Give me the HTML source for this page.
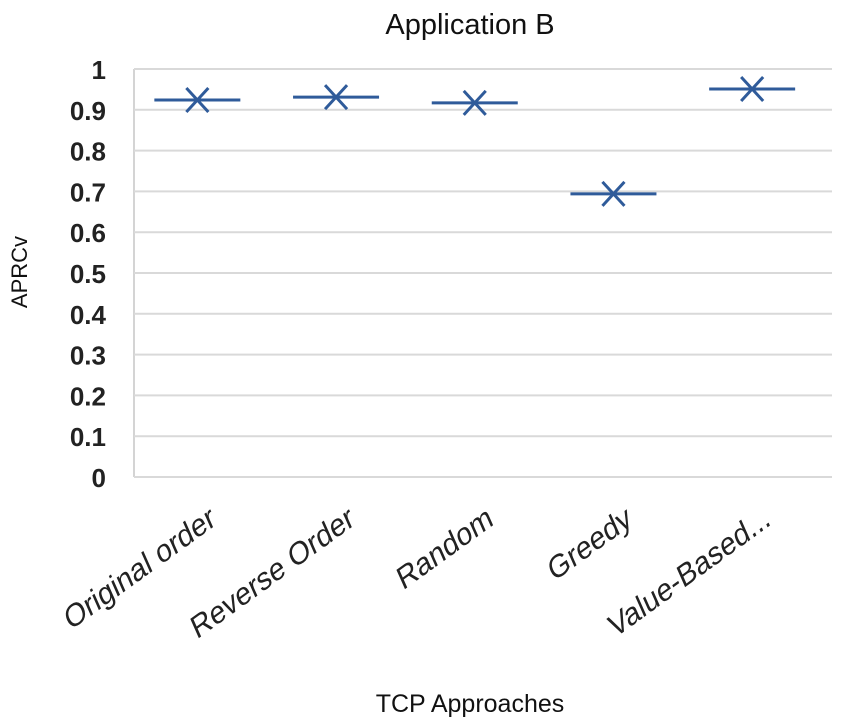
<!DOCTYPE html>
<html><head><meta charset="utf-8"><style>
body{margin:0;background:#fff;}
svg{display:block;font-family:"Liberation Sans",sans-serif;}
</style></head><body>
<svg id="chart" width="852" height="724">
<text x="470" y="34" font-size="29" text-anchor="middle" fill="#111">Application B</text>
<text transform="translate(27,272) rotate(-90)" font-size="22" text-anchor="middle" fill="#111">APRCv</text>
<text x="470" y="712" font-size="25" text-anchor="middle" fill="#111">TCP Approaches</text>
<g id="grid"></g><g id="yticks"></g><g id="xticks"></g><g id="marks"></g>
</svg>
<script>
const categories=["Original order","Reverse Order","Random","Greedy","Value-Based..."];
const values=[0.924,0.931,0.917,0.694,0.951];
const yTicks=[0,0.1,0.2,0.3,0.4,0.5,0.6,0.7,0.8,0.9,1];
const yTickLabels=["0","0.1","0.2","0.3","0.4","0.5","0.6","0.7","0.8","0.9","1"];
const NS="http://www.w3.org/2000/svg";
const plotL=134,plotR=832,y0=477,y1=69;
function y(v){return y0-(v-0)/(1-0)*(y0-y1);}
function x(i){return 128+138.7*(i+0.5);}
function mk(tag,attrs,parent){const e=document.createElementNS(NS,tag);for(const k in attrs)e.setAttribute(k,attrs[k]);parent.appendChild(e);return e;}
const grid=document.getElementById('grid'),yt=document.getElementById('yticks'),xt=document.getElementById('xticks'),marks=document.getElementById('marks');
const ax=mk('line',{x1:plotL,x2:plotL,y1:y(1),y2:y(0),stroke:'#d4d4d4','stroke-width':2},grid);


yTicks.forEach((t,i)=>{
  const l=mk('line',{x1:plotL,x2:plotR,y1:y(t),y2:y(t),stroke:'#d9d9d9','stroke-width':2},grid);
  
  
  const tx=mk('text',{x:106,y:y(t)+10,'font-size':26,'font-weight':'bold','text-anchor':'end',fill:'#222'},yt);
  tx.textContent=yTickLabels[i];
  
  
});
categories.forEach((c,i)=>{
  const tx=mk('text',{transform:`translate(${x(i)+20},${524}) rotate(-36) skewX(-12)`,'font-size':30,'text-anchor':'end',fill:'#222','font-family':'"Liberation Sans Narrow","Liberation Sans",sans-serif'},xt);
  tx.textContent=c;
  
  
});
values.forEach((v,i)=>{
  const g=mk('g',{stroke:'#2f5b9a','stroke-width':3,fill:'none'},marks);
  
  
  const cx=x(i),cy=y(v);
  mk('line',{x1:cx-43,x2:cx+43,y1:cy,y2:cy},g);
  mk('line',{x1:cx-11,x2:cx+11,y1:cy-12,y2:cy+12},g);
  mk('line',{x1:cx-11,x2:cx+11,y1:cy+12,y2:cy-12},g);
});
</script>
</body></html>
